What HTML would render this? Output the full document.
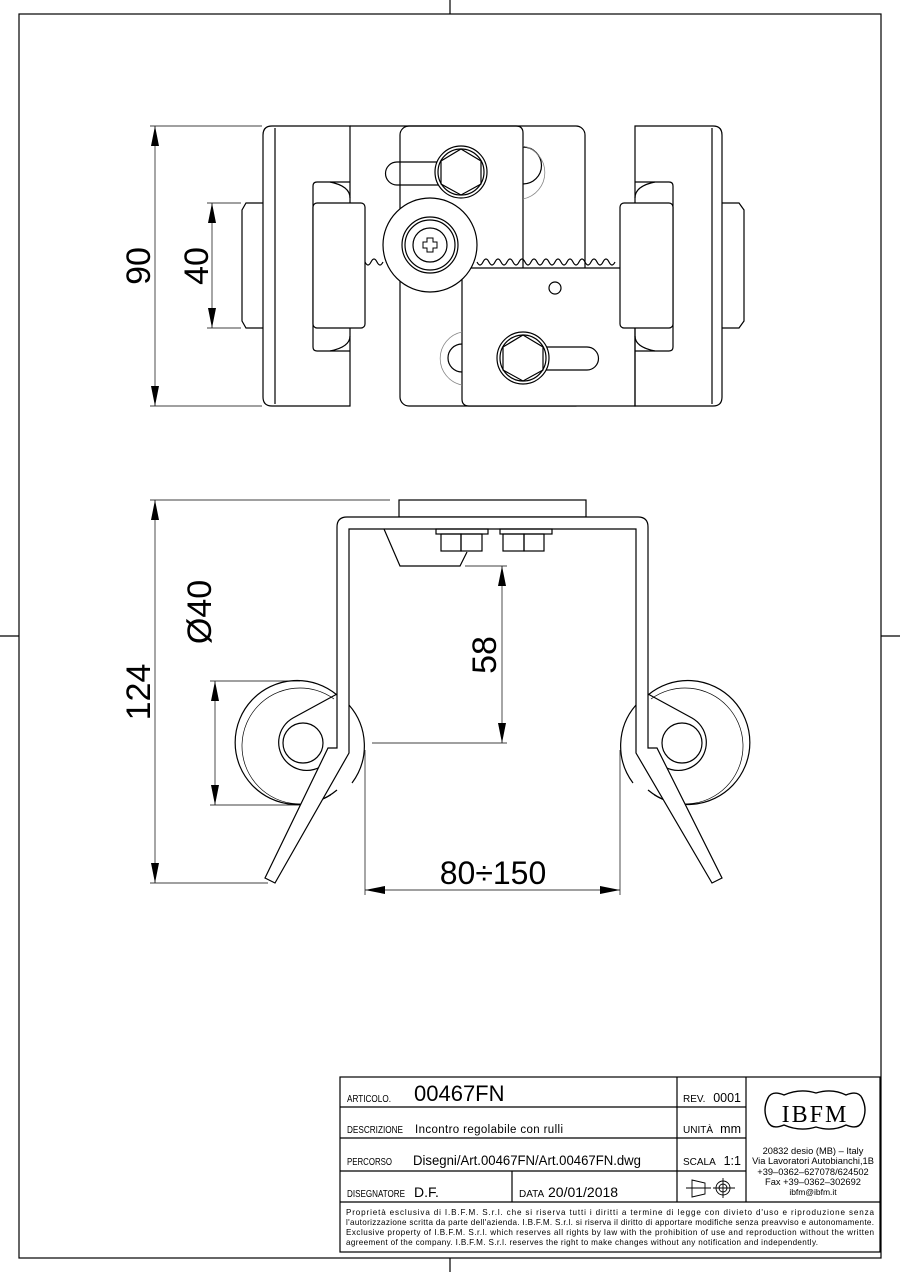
<!DOCTYPE html>
<html><head><meta charset="utf-8"><style>
html,body{margin:0;padding:0;background:#fff}
svg{display:block}
text{font-family:"Liberation Sans",sans-serif;fill:#000}
</style></head><body>
<svg width="900" height="1272" viewBox="0 0 900 1272" xmlns="http://www.w3.org/2000/svg">
<g fill="none" stroke="#000" stroke-width="1.2">
<rect x="19" y="14" width="862" height="1244"/>
<line x1="450" y1="0" x2="450" y2="14"/><line x1="450" y1="1258" x2="450" y2="1272"/>
<line x1="0" y1="636" x2="19" y2="636"/><line x1="881" y1="636" x2="900" y2="636"/>

<!-- TOP VIEW -->
<rect x="400" y="126" width="185" height="280" rx="9"/>
<path d="M263 135 Q263 126 272 126 L350 126 L350 406 L272 406 Q263 406 263 397 Z"/>
<line x1="275" y1="128" x2="275" y2="404"/>
<path d="M350 126 L516 126 Q523 126 523 133 L523 268"/>
<path d="M462 268 L635 268 L635 406 L469 406 Q462 406 462 399 Z" fill="#fff"/>
<path d="M635 126 L713 126 Q722 126 722 135 L722 397 Q722 406 713 406 L635 406 Z"/>
<line x1="712" y1="128" x2="712" y2="404"/>
<path d="M365 262 q3 6 6 0 q3 -6 6 0 q3 6 6 0"/>
<path d="M477 262 q3 6 6 0 q3 -6 6 0 q3 6 6 0 q3 -6 6 0 q3 6 6 0 q3 -6 6 0 q3 6 6 0 q3 -6 6 0 q3 6 6 0 q3 -6 6 0 q3 6 6 0 q3 -6 6 0 q3 6 6 0 q3 -6 6 0 q3 6 6 0 q3 -6 6 0 q3 6 6 0 q3 -6 6 0 q3 6 6 0 q3 -6 6 0 q3 6 6 0 q3 -6 6 0 q3 6 6 0"/>
<path d="M313 186 Q313 182 317 182 L350 182 M313 186 L313 347 Q313 351 317 351 L350 351"/>
<path d="M330 182 Q350 186 350 198 M330 351 Q350 347 350 336"/>
<rect x="313" y="203" width="52" height="125" rx="4" fill="#fff"/>
<path d="M263 203 L246 203 L242 210 L242 321 L246 328 L263 328"/>
<path d="M673 186 Q673 182 669 182 L635 182 M673 186 L673 347 Q673 351 669 351 L635 351"/>
<path d="M655 182 Q635 186 635 198 M655 351 Q635 347 635 336"/>
<rect x="620" y="203" width="53" height="125" rx="4" fill="#fff"/>
<path d="M722 203 L739 203 L744 210 L744 321 L739 328 L722 328"/>
<circle cx="430" cy="245" r="47" fill="#fff"/>
<circle cx="430" cy="245" r="28"/><circle cx="430" cy="245" r="25"/><circle cx="430" cy="245" r="17"/>
<path d="M427 238 h6 v4 h4 v6 h-4 v4 h-6 v-4 h-4 v-6 h4 z" stroke-width="1"/>
<path d="M397 162 L461 162 M397 185 L461 185 M397 162 A11.5 11.5 0 0 0 397 185"/>
<circle cx="461" cy="172" r="26" fill="#fff"/><circle cx="461" cy="172" r="23"/>
<polygon points="461,149 481,161 481,184 461,195 441,184 441,161"/>
<path d="M523 347 L587 347 M523 370 L587 370 M587 347 A11.5 11.5 0 0 1 587 370"/>
<circle cx="523" cy="358" r="26" fill="#fff"/><circle cx="523" cy="358" r="23"/>
<polygon points="523,335 543,347 543,370 523,381 503,370 503,347"/>
<path d="M523 147 A14 14 0 0 1 523 184"/>
<path d="M523 146 A27 27 0 0 1 523 199" stroke="#888" stroke-width="0.8"/>
<path d="M462 344 A14 14 0 0 0 462 372"/>
<path d="M462 332 A27 27 0 0 0 462 385" stroke="#888" stroke-width="0.8"/>
<circle cx="555" cy="288" r="6"/>

<g stroke-width="0.7">
<line x1="150" y1="126" x2="262" y2="126"/><line x1="150" y1="406" x2="262" y2="406"/>
<line x1="155" y1="126" x2="155" y2="406"/>
<line x1="207" y1="203" x2="241" y2="203"/><line x1="207" y1="328" x2="241" y2="328"/>
<line x1="212" y1="203" x2="212" y2="328"/>
</g>
<g fill="#000" stroke="none">
<polygon points="155,126 151,146 159,146"/><polygon points="155,406 151,386 159,386"/>
<polygon points="212,203 208,223 216,223"/><polygon points="212,328 208,308 216,308"/>
</g>

<!-- FRONT VIEW -->
<rect x="399" y="500" width="187" height="17"/>
<path d="M337 695 A62 62 0 1 0 337 790"/>
<path d="M334 699 A58 58 0 1 0 331 795" stroke-width="0.7"/>
<circle cx="303" cy="743" r="20"/>
<path d="M337 694 L293 718 A28 28 0 1 0 333 752"/>
<path d="M349 705 A62 62 0 0 1 352 783"/>
<path d="M648 695 A62 62 0 1 1 648 790"/>
<path d="M651 699 A58 58 0 1 1 654 795" stroke-width="0.7"/>
<circle cx="682" cy="743" r="20"/>
<path d="M648 694 L692 718 A28 28 0 1 1 652 752"/>
<path d="M636 705 A62 62 0 0 0 633 783"/>
<path d="M265 878 L328 748 L337 748 L337 527 Q337 517 347 517 L638 517 Q648 517 648 527 L648 748 L657 748 L722 878 L712 883 L636 753 L636 529 L349 529 L349 753 L275 883 Z" fill="#fff" fill-rule="evenodd"/>
<path d="M384 529 L400 566 L460 566 L467 552"/>
<rect x="436" y="529" width="52" height="5"/><rect x="500" y="529" width="52" height="5"/>
<rect x="441" y="534" width="20" height="17"/><rect x="461" y="534" width="21" height="17"/>
<rect x="503" y="534" width="21" height="17"/><rect x="524" y="534" width="20" height="17"/>

<g stroke-width="0.7">
<line x1="150" y1="500" x2="390" y2="500"/><line x1="150" y1="883" x2="268" y2="883"/>
<line x1="155" y1="500" x2="155" y2="883"/>
<line x1="210" y1="681" x2="300" y2="681"/><line x1="210" y1="805" x2="300" y2="805"/>
<line x1="215" y1="681" x2="215" y2="805"/>
<line x1="465" y1="566" x2="507" y2="566"/><line x1="372" y1="743" x2="507" y2="743"/>
<line x1="502" y1="566" x2="502" y2="743"/>
<line x1="365" y1="750" x2="365" y2="895"/><line x1="620" y1="750" x2="620" y2="895"/>
<line x1="365" y1="890" x2="620" y2="890"/>
</g>
<g fill="#000" stroke="none">
<polygon points="155,500 151,520 159,520"/><polygon points="155,883 151,863 159,863"/>
<polygon points="215,681 211,701 219,701"/><polygon points="215,805 211,785 219,785"/>
<polygon points="502,566 498,586 506,586"/><polygon points="502,743 498,723 506,723"/>
<polygon points="365,890 385,886 385,894"/><polygon points="620,890 600,886 600,894"/>
</g>

<rect x="340" y="1077" width="540" height="175"/>
<line x1="340" y1="1107" x2="746" y2="1107"/>
<line x1="340" y1="1138" x2="746" y2="1138"/>
<line x1="340" y1="1171" x2="746" y2="1171"/>
<line x1="340" y1="1202" x2="880" y2="1202"/>
<line x1="677" y1="1077" x2="677" y2="1202"/>
<line x1="746" y1="1077" x2="746" y2="1202"/>
<line x1="512" y1="1171" x2="512" y2="1202"/>
<path d="M784 1095 Q772 1090 768 1098 Q762 1110 768 1122 Q772 1130 784 1125 Q800 1132 816 1127 Q832 1132 846 1125 Q858 1130 862 1122 Q868 1110 862 1098 Q858 1090 846 1095 Q832 1088 816 1093 Q800 1088 784 1095 Z" stroke-width="1.4"/>
<g stroke-width="0.9">
<path d="M692 1180 L705 1183 L705 1194 L692 1197 Z"/><line x1="686" y1="1188" x2="711" y2="1188"/>
<circle cx="723" cy="1188" r="7"/><circle cx="723" cy="1188" r="4"/>
<line x1="713" y1="1188" x2="735" y2="1188"/><line x1="723" y1="1178" x2="723" y2="1198"/>
</g>
</g>

<text transform="translate(150,266) rotate(-90)" font-size="34" text-anchor="middle">90</text>
<text transform="translate(208,266) rotate(-90)" font-size="34" text-anchor="middle">40</text>
<text transform="translate(150,692) rotate(-90)" font-size="34" text-anchor="middle">124</text>
<text transform="translate(211,612) rotate(-90)" font-size="34" text-anchor="middle">Ø40</text>
<text transform="translate(496,655) rotate(-90)" font-size="34" text-anchor="middle">58</text>
<text x="493" y="884" font-size="32" text-anchor="middle">80÷150</text>

<text x="347" y="1102" font-size="10" textLength="44" lengthAdjust="spacingAndGlyphs">ARTICOLO.</text>
<text x="414" y="1101" font-size="22" font-weight="300">00467FN</text>
<text x="347" y="1133" font-size="10" textLength="56" lengthAdjust="spacingAndGlyphs">DESCRIZIONE</text>
<text x="415" y="1133" font-size="11.5" textLength="148" lengthAdjust="spacing">Incontro regolabile con rulli</text>
<text x="347" y="1165" font-size="10" textLength="45" lengthAdjust="spacingAndGlyphs">PERCORSO</text>
<text x="413" y="1165" font-size="13.5" textLength="228" lengthAdjust="spacingAndGlyphs">Disegni/Art.00467FN/Art.00467FN.dwg</text>
<text x="347" y="1197" font-size="10" textLength="58" lengthAdjust="spacingAndGlyphs">DISEGNATORE</text>
<text x="414" y="1197" font-size="14">D.F.</text>
<text x="519" y="1197" font-size="10">DATA</text>
<text x="548" y="1197" font-size="14">20/01/2018</text>
<text x="683" y="1102" font-size="10">REV.</text>
<text x="741" y="1102" font-size="12.5" text-anchor="end">0001</text>
<text x="683" y="1133" font-size="10">UNITÀ</text>
<text x="741" y="1133" font-size="12.5" text-anchor="end">mm</text>
<text x="683" y="1165" font-size="10">SCALA</text>
<text x="741" y="1165" font-size="12.5" text-anchor="end">1:1</text>
<text x="815" y="1122" font-size="24" text-anchor="middle" style="font-family:'Liberation Serif',serif;letter-spacing:2px">IBFM</text>
<g font-size="9.3" text-anchor="middle">
<text x="813" y="1154">20832 desio (MB) – Italy</text>
<text x="813" y="1164">Via Lavoratori Autobianchi,1B</text>
<text x="813" y="1175">+39–0362–627078/624502</text>
<text x="813" y="1185">Fax +39–0362–302692</text>
<text x="813" y="1195" font-size="8.5">ibfm@ibfm.it</text>
</g>
<g font-size="8.1">
<text x="346" y="1215" textLength="528" lengthAdjust="spacing">Proprietà esclusiva di I.B.F.M. S.r.l. che si riserva tutti i diritti a termine di legge con divieto d'uso e riproduzione senza</text>
<text x="346" y="1225" textLength="528" lengthAdjust="spacing">l'autorizzazione scritta da parte dell'azienda. I.B.F.M. S.r.l. si riserva il diritto di apportare modifiche senza preavviso e autonomamente.</text>
<text x="346" y="1235" textLength="528" lengthAdjust="spacing">Exclusive property of I.B.F.M. S.r.l. which reserves all rights by law with the prohibition of use and reproduction without the written</text>
<text x="346" y="1245" textLength="472" lengthAdjust="spacing">agreement of the company. I.B.F.M. S.r.l. reserves the right to make changes without any notification and independently.</text>
</g>
</svg>
</body></html>
